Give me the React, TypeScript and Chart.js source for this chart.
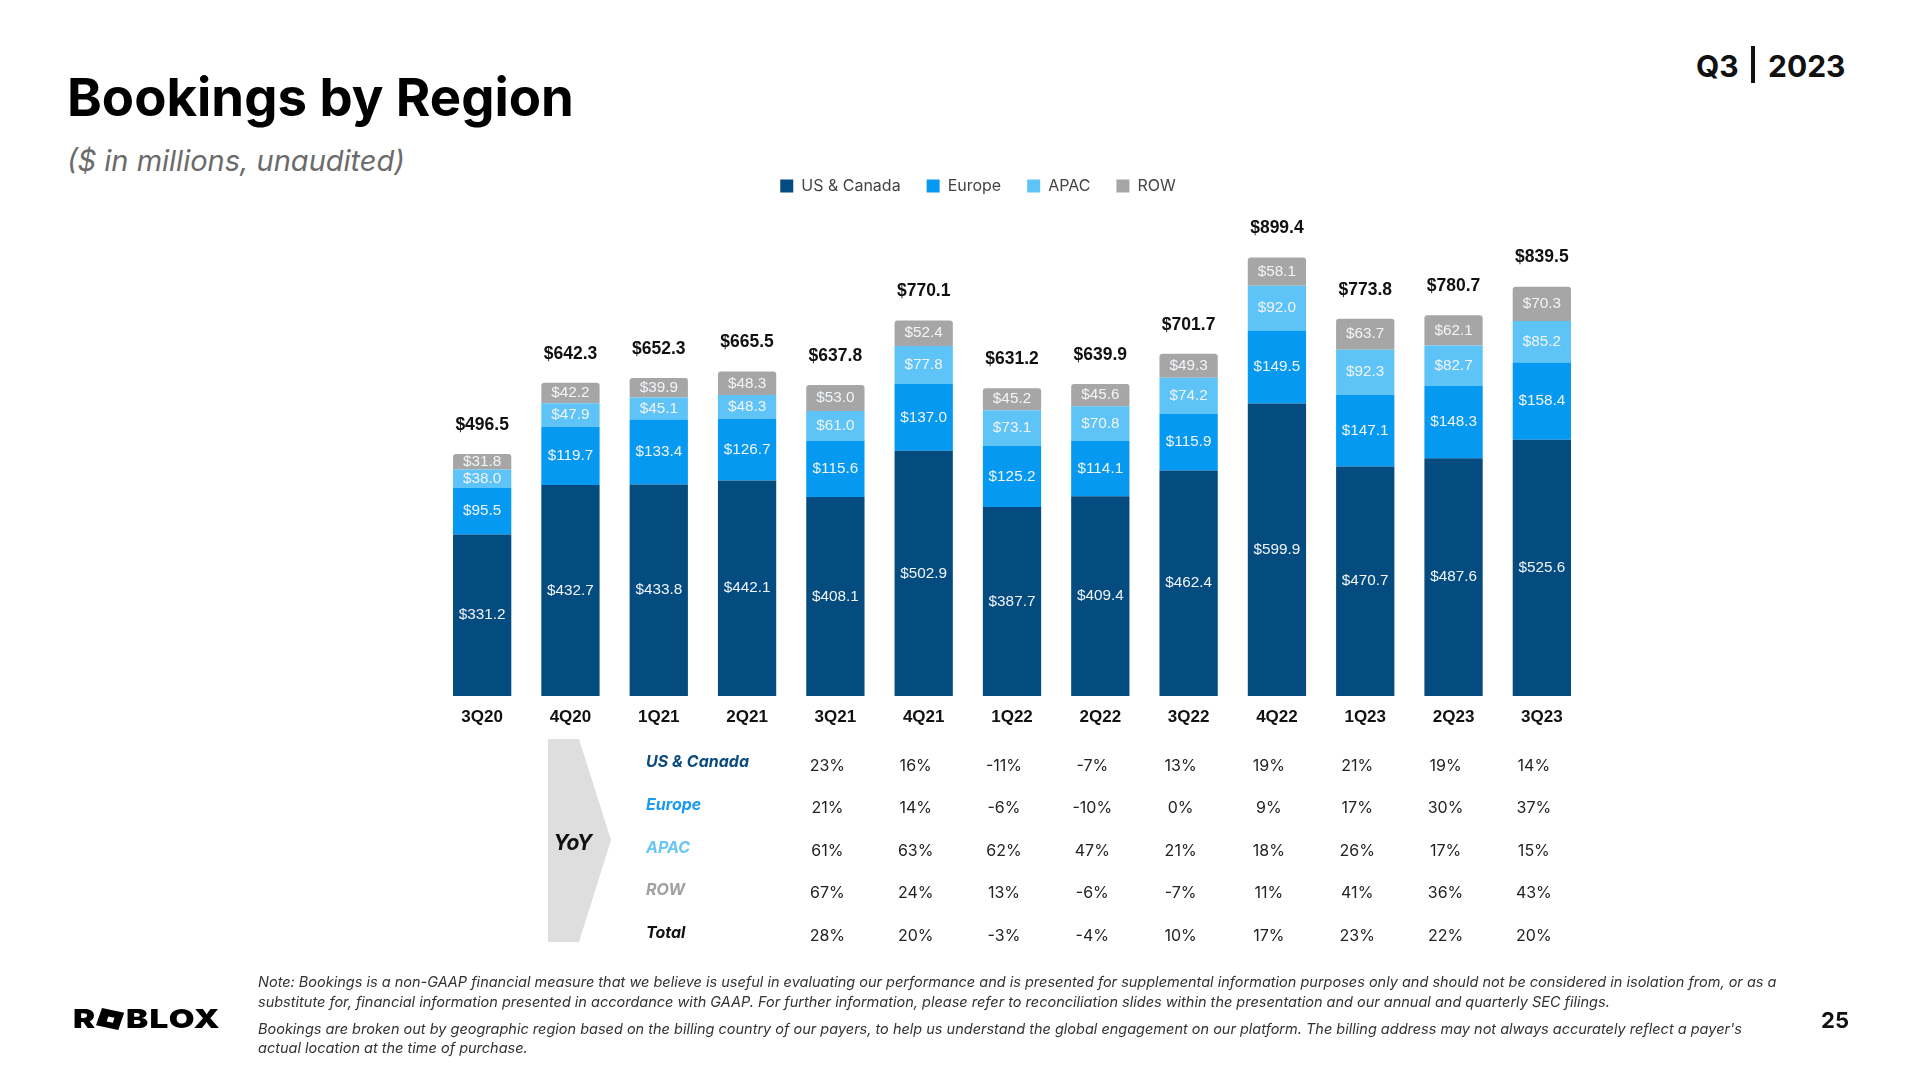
import React, { useEffect, useRef } from 'react';
import { Chart, registerables } from 'chart.js';

Chart.register(...registerables);

// ---------------- DATA ----------------
const categories = ['3Q20', '4Q20', '1Q21', '2Q21', '3Q21', '4Q21', '1Q22', '2Q22', '3Q22', '4Q22', '1Q23', '2Q23', '3Q23'];
const usCanada = [331.2, 432.7, 433.8, 442.1, 408.1, 502.9, 387.7, 409.4, 462.4, 599.9, 470.7, 487.6, 525.6];
const europe = [95.5, 119.7, 133.4, 126.7, 115.6, 137.0, 125.2, 114.1, 115.9, 149.5, 147.1, 148.3, 158.4];
const apac = [38.0, 47.9, 45.1, 48.3, 61.0, 77.8, 73.1, 70.8, 74.2, 92.0, 92.3, 82.7, 85.2];
const rowRegion = [31.8, 42.2, 39.9, 48.3, 53.0, 52.4, 45.2, 45.6, 49.3, 58.1, 63.7, 62.1, 70.3];
const totals = [496.5, 642.3, 652.3, 665.5, 637.8, 770.1, 631.2, 639.9, 701.7, 899.4, 773.8, 780.7, 839.5];

const yoyFirstIndex = 4; // YoY columns start at 3Q21
const yoyLabels = ['US & Canada', 'Europe', 'APAC', 'ROW', 'Total'];
const yoyUsCanada = ['23%', '16%', '-11%', '-7%', '13%', '19%', '21%', '19%', '14%'];
const yoyEurope = ['21%', '14%', '-6%', '-10%', '0%', '9%', '17%', '30%', '37%'];
const yoyApac = ['61%', '63%', '62%', '47%', '21%', '18%', '26%', '17%', '15%'];
const yoyRow = ['67%', '24%', '13%', '-6%', '-7%', '11%', '41%', '36%', '43%'];
const yoyTotal = ['28%', '20%', '-3%', '-4%', '10%', '17%', '23%', '22%', '20%'];

// ---------------- STYLE / LAYOUT ----------------
const C_US = '#044B7F';
const C_EU = '#0599F2';
const C_APAC = '#5EC3F7';
const C_ROW = '#A6A6A6';

const CANVAS_LEFT = 370;
const CANVAS_TOP = 152;
const CANVAS_W = 1216;
const CANVAS_BOTTOM = 736;
const CANVAS_H = CANVAS_BOTTOM - CANVAS_TOP;
const Y_AXIS_W = 68;
const X_AXIS_H = 40;
const Y_MAX = 1009;

const CHART_LEFT = CANVAS_LEFT + Y_AXIS_W;
const CAT_W = (CANVAS_W - Y_AXIS_W) / categories.length;

const INTER = 'Inter, "Noto Sans", sans-serif';
const ARIAL = '"Liberation Sans", Arial, sans-serif';

const valueLabelsPlugin = {
  id: 'valueLabels',
  afterDatasetsDraw(chart: any) {
    const ctx = chart.ctx;
    ctx.save();
    ctx.textAlign = 'center';
    ctx.textBaseline = 'middle';
    ctx.font = `15.3px ${ARIAL}`;
    chart.data.datasets.forEach((ds: any, di: number) => {
      const meta = chart.getDatasetMeta(di);
      meta.data.forEach((el: any, i: number) => {
        const v = ds.data[i] as number;
        ctx.fillStyle = '#F2F5F8';
        ctx.fillText('$' + v.toFixed(1), el.x, (el.y + el.base) / 2);
      });
    });
    const topMeta = chart.getDatasetMeta(chart.data.datasets.length - 1);
    ctx.font = `bold 17.5px ${ARIAL}`;
    ctx.fillStyle = '#111111';
    topMeta.data.forEach((el: any, i: number) => {
      ctx.fillText('$' + totals[i].toFixed(1), el.x, el.y - 29);
    });
    ctx.restore();
  },
};

function BarChart() {
  const ref = useRef<HTMLCanvasElement | null>(null);
  useEffect(() => {
    if (!ref.current) return;
    const chart = new Chart(ref.current, {
      type: 'bar',
      data: {
        labels: categories,
        datasets: [
          { label: 'US & Canada', data: usCanada, backgroundColor: C_US, borderWidth: 0 },
          { label: 'Europe', data: europe, backgroundColor: C_EU, borderWidth: 0 },
          { label: 'APAC', data: apac, backgroundColor: C_APAC, borderWidth: 0 },
          {
            label: 'ROW',
            data: rowRegion,
            backgroundColor: C_ROW,
            borderWidth: 0,
            borderRadius: { topLeft: 3, topRight: 3, bottomLeft: 0, bottomRight: 0 },
            borderSkipped: false,
          },
        ],
      },
      options: {
        animation: false,
        responsive: false,
        devicePixelRatio: 1,
        layout: { padding: 0 },
        datasets: { bar: { barPercentage: 0.66, categoryPercentage: 1 } },
        plugins: {
          tooltip: { enabled: false },
          legend: {
            position: 'top',
            align: 'center',
            labels: {
              boxWidth: 13,
              boxHeight: 13,
              padding: 26,
              color: '#444444',
              font: { family: INTER, size: 16 },
            },
          },
        },
        scales: {
          x: {
            stacked: true,
            grid: { display: false },
            border: { display: false },
            ticks: {
              color: '#111111',
              padding: 3,
              maxRotation: 0,
              autoSkip: false,
              font: { family: ARIAL, size: 17, weight: 'bold' },
            },
            afterFit(s: any) {
              s.height = X_AXIS_H;
            },
          },
          y: {
            stacked: true,
            min: 0,
            max: Y_MAX,
            grid: { display: false },
            border: { display: false },
            ticks: { display: false },
            afterFit(s: any) {
              s.width = Y_AXIS_W;
            },
          },
        },
      },
      plugins: [valueLabelsPlugin],
    } as any);
    return () => chart.destroy();
  }, []);
  return (
    <canvas
      ref={ref}
      width={CANVAS_W}
      height={CANVAS_H}
      style={{ position: 'absolute', left: CANVAS_LEFT, top: CANVAS_TOP, width: CANVAS_W, height: CANVAS_H }}
    />
  );
}

const yoyRows = [yoyUsCanada, yoyEurope, yoyApac, yoyRow, yoyTotal];
const yoyLabelColors = ['#0B4A7E', '#1A9AF0', '#6AC6F5', '#A0A0A0', '#111111'];
const yoyLabelY = [761, 804, 847, 889, 932];
const yoyValueY = [765, 807, 850, 892, 935];

const notes = [
  'Note: Bookings is a non-GAAP financial measure that we believe is useful in evaluating our performance and is presented for supplemental information purposes only and should not be considered in isolation from, or as a',
  'substitute for, financial information presented in accordance with GAAP. For further information, please refer to reconciliation slides within the presentation and our annual and quarterly SEC filings.',
  "Bookings are broken out by geographic region based on the billing country of our payers, to help us understand the global engagement on our platform. The billing address may not always accurately reflect a payer's",
  'actual location at the time of purchase.',
];
const notesY = [982, 1002, 1029, 1048];

export default function App() {
  const abs = (extra: React.CSSProperties): React.CSSProperties => ({ position: 'absolute', whiteSpace: 'nowrap', ...extra });
  return (
    <div
      style={{
        position: 'absolute',
        left: 0,
        top: 0,
        width: 1920,
        height: 1080,
        background: '#ffffff',
        overflow: 'hidden',
        fontFamily: INTER,
      }}
    >
      {/* Title */}
      <div style={abs({ left: 67, top: 71, fontSize: 52.7, fontWeight: 700, lineHeight: 1, color: '#000' })}>Bookings by Region</div>
      <div style={abs({ left: 67, top: 146, fontSize: 29, fontStyle: 'italic', lineHeight: 1, color: '#6B6B6B' })}>
        ($ in millions, unaudited)
      </div>

      {/* Q3 | 2023 */}
      <div style={abs({ left: 1696, top: 51, fontSize: 30, fontWeight: 700, lineHeight: 1, color: '#111' })}>Q3</div>
      <div style={abs({ left: 1751, top: 46, width: 4, height: 37, background: '#111' })} />
      <div style={abs({ left: 1768, top: 51, fontSize: 30, fontWeight: 700, lineHeight: 1, color: '#111' })}>2023</div>

      <BarChart />

      {/* YoY chevron */}
      <svg style={{ position: 'absolute', left: 0, top: 0 }} width={1920} height={1080}>
        <polygon points="548,739 579,739 611,840 579,942 548,942" fill="#DEDEDE" />
      </svg>
      <div
        style={abs({
          left: 573,
          top: 842,
          transform: 'translate(-50%, -50%)',
          fontSize: 21,
          fontWeight: 700,
          fontStyle: 'italic',
          color: '#111',
          lineHeight: 1,
        })}
      >
        YoY
      </div>

      {/* YoY table */}
      {yoyLabels.map((lab, r) => (
        <div
          key={'l' + r}
          style={abs({
            left: 646,
            top: yoyLabelY[r],
            transform: 'translateY(-50%)',
            fontSize: 16,
            fontWeight: 700,
            fontStyle: 'italic',
            color: yoyLabelColors[r],
            lineHeight: 1,
          })}
        >
          {lab}
        </div>
      ))}
      {yoyRows.map((vals, r) =>
        vals.map((v, j) => (
          <div
            key={'v' + r + '_' + j}
            style={abs({
              left: CHART_LEFT + (yoyFirstIndex + j + 0.5) * CAT_W - 8,
              top: yoyValueY[r],
              transform: 'translate(-50%, -50%)',
              fontSize: 16,
              color: '#222',
              lineHeight: 1,
            })}
          >
            {v}
          </div>
        ))
      )}

      {/* Notes */}
      {notes.map((t, i) => (
        <div
          key={'n' + i}
          style={abs({
            left: 258,
            top: notesY[i],
            transform: 'translateY(-50%)',
            fontSize: 14.5,
            fontStyle: 'italic',
            color: '#333',
            lineHeight: 1,
          })}
        >
          {t}
        </div>
      ))}

      {/* Logo */}
      <div
        style={abs({
          left: 73,
          top: 1019,
          transform: 'translateY(-50%) scaleX(1.28)',
          transformOrigin: 'left center',
          display: 'flex',
          alignItems: 'center',
          fontSize: 26,
          fontWeight: 900,
          color: '#000',
          lineHeight: 1,
          letterSpacing: 1,
        })}
      >
        <span>R</span>
        <span
          style={{
            display: 'inline-block',
            width: 18,
            height: 18,
            background: '#000',
            transform: 'rotate(15deg)',
            margin: '0 3px 0 2px',
            position: 'relative',
          }}
        >
          <span style={{ position: 'absolute', left: 6.5, top: 6.5, width: 5, height: 5, background: '#fff' }} />
        </span>
        <span>BLOX</span>
      </div>

      {/* Page number */}
      <div
        style={abs({
          left: 1835,
          top: 1020,
          transform: 'translate(-50%, -50%)',
          fontSize: 22,
          fontWeight: 700,
          color: '#111',
          lineHeight: 1,
        })}
      >
        25
      </div>
    </div>
  );
}
